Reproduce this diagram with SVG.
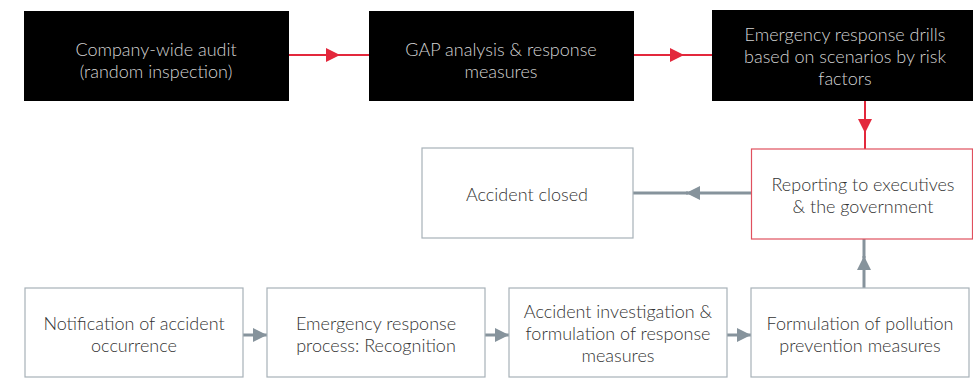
<svg xmlns="http://www.w3.org/2000/svg" width="973" height="378" viewBox="0 0 973 378">
  <defs>
    <marker id="arrRed" viewBox="0 0 10 10" refX="10" refY="5" markerWidth="14" markerHeight="14" markerUnits="userSpaceOnUse" orient="auto">
      <path d="M0,0 L10,5 L0,10 Z" fill="#e3283c"/>
    </marker>
    <marker id="arrGray" viewBox="0 0 10 10" refX="10" refY="5" markerWidth="14" markerHeight="14" markerUnits="userSpaceOnUse" orient="auto">
      <path d="M0,0 L10,5 L0,10 Z" fill="#86939c"/>
    </marker>
  </defs>
  <style>
    .dark { fill: #000000; }
    .plain { fill: #ffffff; stroke: #a7b1b8; stroke-width: 1.2; }
    .hot { fill: #ffffff; stroke: #e0505e; stroke-width: 1.2; }
    text { font-family: Lato, "Open Sans", "Liberation Sans", sans-serif; font-weight: 300; font-size: 18px; text-anchor: middle; }
    .lt { fill: #d4d4d4; }
    .dk { fill: #333333; }
    .red { stroke: #e3283c; stroke-width: 2; fill: none; }
    .gray { stroke: #86939c; stroke-width: 3; fill: none; }
  </style>
  <rect width="973" height="378" fill="#ffffff"/>

  <g id="connectors">
    <line class="red" x1="289" y1="55" x2="340" y2="55" marker-end="url(#arrRed)"/>
    <line x1="338" y1="55" x2="369" y2="55" class="red"/>
    <line class="red" x1="634" y1="55" x2="684" y2="55" marker-end="url(#arrRed)"/>
    <line x1="682" y1="55" x2="712" y2="55" class="red"/>
    <line class="red" x1="865" y1="101" x2="865" y2="133" marker-end="url(#arrRed)"/>
    <line x1="865" y1="131" x2="865" y2="149" class="red"/>
    <line class="gray" x1="751" y1="193" x2="686" y2="193" marker-end="url(#arrGray)"/>
    <line x1="688" y1="193" x2="633" y2="193" class="gray"/>
    <line class="gray" x1="864" y1="288" x2="864" y2="256" marker-end="url(#arrGray)"/>
    <line x1="864" y1="258" x2="864" y2="239" class="gray"/>
    <line class="gray" x1="243" y1="335" x2="267" y2="335" marker-end="url(#arrGray)"/>
    <line class="gray" x1="485" y1="335" x2="509" y2="335" marker-end="url(#arrGray)"/>
    <line class="gray" x1="727" y1="335" x2="751" y2="335" marker-end="url(#arrGray)"/>
  </g>

  <g id="audit">
    <rect class="dark" x="24" y="11" width="265" height="90"/>
    <text class="lt" x="156" y="56">Company-wide audit</text>
    <text class="lt" x="156" y="78">(random inspection)</text>
  </g>
  <g id="gap">
    <rect class="dark" x="369" y="11" width="265" height="90"/>
    <text class="lt" x="501" y="56">GAP analysis &amp; response</text>
    <text class="lt" x="501" y="78">measures</text>
  </g>
  <g id="drills">
    <rect class="dark" x="712" y="10" width="261" height="91"/>
    <text class="lt" x="845" y="41">Emergency response drills</text>
    <text class="lt" x="845" y="63">based on scenarios by risk</text>
    <text class="lt" x="845" y="85">factors</text>
  </g>
  <g id="reporting">
    <rect class="hot" x="751.5" y="149" width="221" height="90"/>
    <text class="dk" x="863" y="191">Reporting to executives</text>
    <text class="dk" x="863" y="213">&amp; the government</text>
  </g>
  <g id="closed">
    <rect class="plain" x="422" y="148" width="211" height="90"/>
    <text class="dk" x="527" y="201">Accident closed</text>
  </g>
  <g id="notification">
    <rect class="plain" x="25" y="288" width="218" height="89"/>
    <text class="dk" x="134" y="330">Notification of accident</text>
    <text class="dk" x="134" y="352">occurrence</text>
  </g>
  <g id="recognition">
    <rect class="plain" x="267" y="288" width="218" height="89"/>
    <text class="dk" x="376" y="330">Emergency response</text>
    <text class="dk" x="376" y="352">process: Recognition</text>
  </g>
  <g id="investigation">
    <rect class="plain" x="509" y="288" width="218" height="89"/>
    <text class="dk" x="618" y="318">Accident investigation &amp;</text>
    <text class="dk" x="618" y="340">formulation of response</text>
    <text class="dk" x="618" y="362">measures</text>
  </g>
  <g id="prevention">
    <rect class="plain" x="751" y="288" width="218" height="89"/>
    <text class="dk" x="860" y="330">Formulation of pollution</text>
    <text class="dk" x="860" y="352">prevention measures</text>
  </g>
</svg>
